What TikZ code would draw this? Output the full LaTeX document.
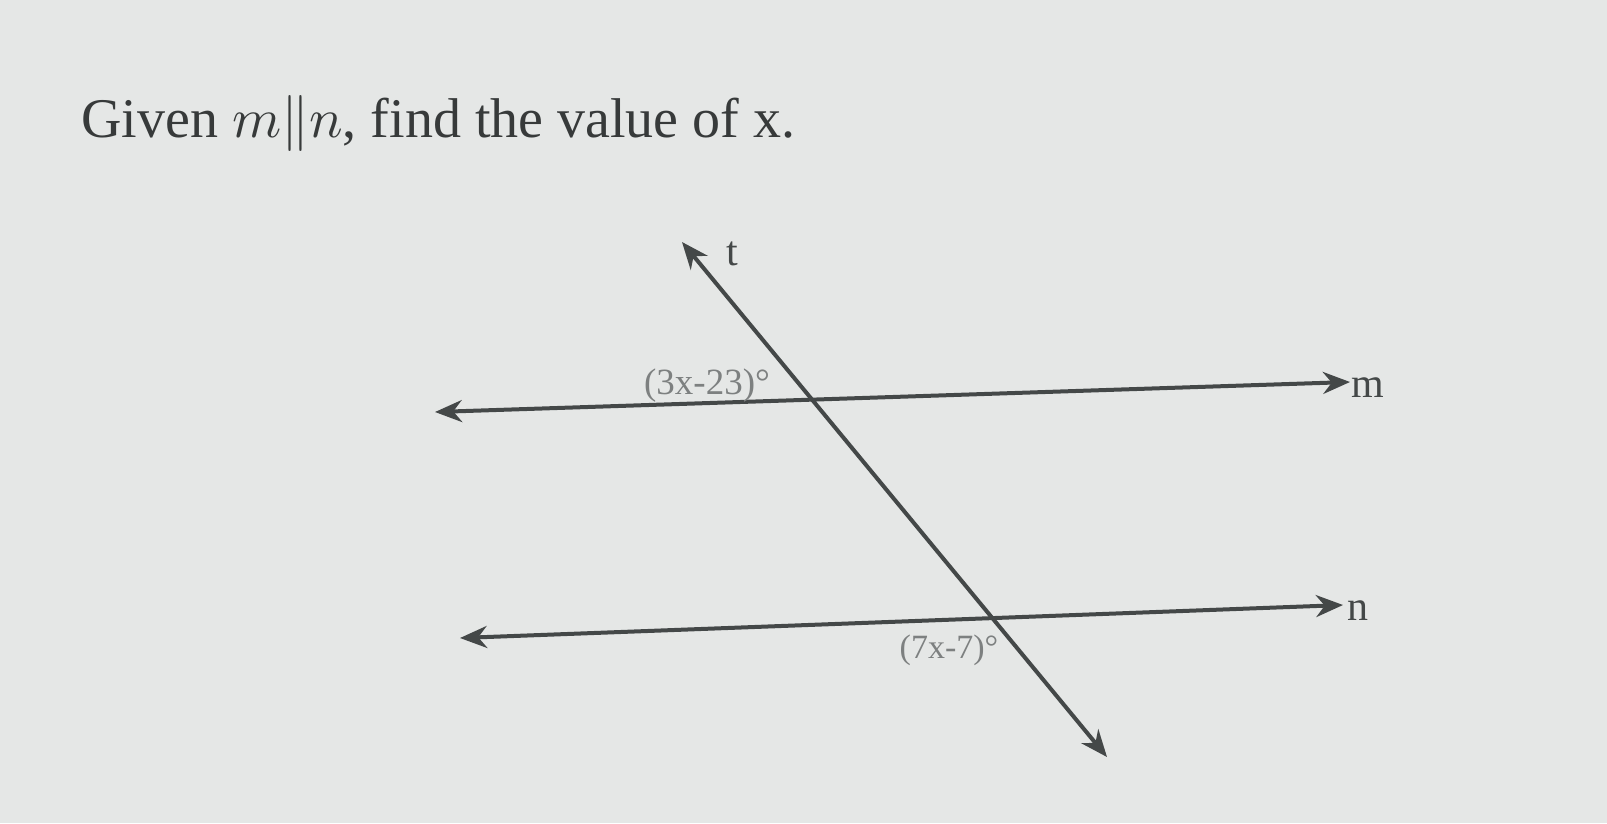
\documentclass[tikz,border=0pt]{standalone}
\usepackage{fontspec}
\setmainfont{Liberation Serif}
\usetikzlibrary{arrows.meta}
\definecolor{bg}{RGB}{229,231,230}
\definecolor{ink}{RGB}{68,72,72}
\definecolor{titleink}{RGB}{55,58,58}
\definecolor{lab}{RGB}{125,128,128}
\newcommand{\mparn}{\scalebox{5.6}{\fontsize{10}{12}\selectfont$m\|n$}}
\begin{document}
\begin{tikzpicture}[x=1pt,y=-1pt,
  geoline/.style={draw=ink,line width=4pt,{Stealth[length=27pt,width=22pt]}-{Stealth[length=27pt,width=22pt]}},
  anglelbl/.style={text=lab,inner sep=0pt},
  linelbl/.style={text=ink,font=\fontsize{42}{48}\selectfont,inner sep=0pt}]
\fill[bg] (0,0) rectangle (1607,823);
\useasboundingbox (0,0) rectangle (1607,823);
% title
\node[anchor=base west,text=titleink,font=\fontsize{56}{66}\selectfont,inner sep=0pt] (title) at (81,137) {Given \mparn, find the value of x.};
% end points
\coordinate (mL) at (435,412);
\coordinate (mR) at (1350,382);
\coordinate (nL) at (460,638);
\coordinate (nR) at (1343,605);
\coordinate (tT) at (682,242);
\coordinate (tB) at (1107,757);
\draw[geoline] (mL) -- (mR);
\draw[geoline] (nL) -- (nR);
\draw[geoline] (tT) -- (tB);
% labels
\node[linelbl] (tlab) at (732,254) {t};
\node[linelbl] (mlab) at (1368,388) {m};
\node[linelbl] (nlab) at (1358,611) {n};
\node[anglelbl,font=\fontsize{37}{42}\selectfont] (a1) at (707,386) {(3x-23)°};
\node[anglelbl,font=\fontsize{34}{40}\selectfont] (a2) at (949,650) {(7x-7)°};
\end{tikzpicture}
\end{document}
